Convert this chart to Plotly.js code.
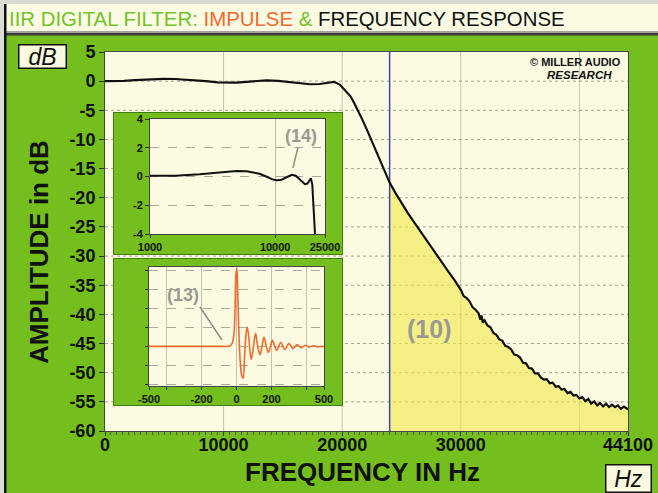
<!DOCTYPE html>
<html><head><meta charset="utf-8">
<script src="https://cdn.plot.ly/plotly-3.0.1.min.js"></script>
<style>html,body{margin:0;padding:0;background:#74be1e;} #chart{width:658px;height:493px;}</style>
</head><body><div id="chart"></div>
<script>
// ---- data ----
const freqHz = [0,500,1000,1600,2500,3400,4000,4900,5900,6500,7500,8500,9500,10200,11100,12200,13600,14600,16000,17300,18100,18900,19300,19800,
  20200,20700,21000,21400,21700,22100,22500,22900,23500,24000,24500,25000,25500,26000,26500,27000,27500,28000,28500,29000,29500,
  30000,30250,30500,30750,31000,31250,31500,31650,31750,31850,32000,32250,32500,32750,33000,33250,33500,33750,34000,34250,34500,34750,
  35000,35250,35500,35750,36000,36250,36500,36750,37000,37250,37500,37750,38000,38250,38500,38750,39000,39250,39500,39750,
  40000,40250,40500,40750,41000,41250,41500,41750,42000,42250,42500,42750,43000,43250,43500,43750,44100];
const ampDb = [0,0,0,0.05,0.16,0.25,0.32,0.39,0.37,0.31,0.19,0.0,-0.2,-0.26,-0.25,-0.07,0.12,0.05,-0.3,-0.53,-0.49,-0.21,-0.12,-0.58,
  -1.5,-2.6,-3.7,-5.3,-6.6,-8.4,-10.3,-12.1,-14.9,-17.4,-19.2,-20.9,-22.5,-24.0,-25.5,-27.0,-28.5,-30.0,-31.4,-32.8,-34.2,
  -35.8,-36.9,-37.2,-37.8,-38.8,-39.2,-39.8,-40.9,-40.2,-41.4,-41.0,-41.9,-42.2,-43.2,-43.5,-44.3,-44.5,-45.4,-45.6,-46.0,-46.9,-47.0,
  -47.4,-48.3,-48.4,-49.2,-49.3,-50.1,-50.1,-50.8,-51.2,-51.1,-51.8,-51.7,-52.4,-52.3,-52.9,-52.8,-53.5,-53.3,-53.9,-53.8,
  -54.4,-54.2,-54.9,-54.5,-55.3,-54.9,-55.6,-55.2,-55.8,-55.3,-55.9,-55.5,-55.9,-55.6,-56.2,-55.8,-56.3];
const cutoffHz = 24000;
const impulseT = [-500,-100,-50,-35,-25,-15,-8,-3,2,6,12,20,30,38,46,54,61,70,84,97,109,121,134,146,157,170,182,194,205,218,230,253,276,300,323,347,370,394,417,440,463,500];
const impulseV = [0,0,0,0.01,0.04,0.15,0.5,0.95,1.02,0.8,0.3,-0.15,-0.38,-0.42,-0.15,0.15,0.25,0.12,-0.17,0.0,0.17,0.0,-0.11,0.0,0.12,0.0,-0.08,0.0,0.08,0.0,-0.055,0.05,-0.04,0.035,-0.028,0.022,-0.018,0.014,-0.01,0.008,-0.005,0];
const xTickVals = [0,10000,20000,30000,44100];
const xTickText = ['0','10000','20000','30000','44100'];
const yTickVals = [-60,-55,-50,-45,-40,-35,-30,-25,-20,-15,-10,-5,0,5];
const mainGridX = [10000,20000,30000,40000];
const mainGridY = [-55,-50,-45,-40,-35,-30,-25,-20,-15,-10,-5,0];
const insetFreqTicks = [1000,10000,25000];
const insetDbTicks = [-4,-2,0,2,4];
const impulseTickVals = [-500,-400,-200,0,200,400,500];
const impulseTickText = ['-500','','-200','0','200','','500'];
const xRange = [0,44100], yRange = [-60,5];

// ---- geometry helpers (pixels -> paper) ----
const L=105,R=628,T=52,B=431,W=R-L,H=B-T;
const px = X => (X-L)/W, py = Y => (B-Y)/H;
function rect(x0,y0,x1,y1,fill){
  return {type:'rect',xref:'paper',yref:'paper',x0:px(x0),x1:px(x1),y0:py(y1),y1:py(y0),
    fillcolor:fill,line:{color:fill,width:0},layer:'below'};
}
const GREEN='#74be1e', CREAM='#fcfbe2', FONT='Liberation Sans, Arial, sans-serif';
const fr1 = {x:[px(113),px(343)], y:[py(255),py(112)]};
const fr2 = {x:[px(113),px(343)], y:[py(406),py(258)]};
const in1 = {x:[px(150),px(325)], y:[py(234),py(119)]};
const in2 = {x:[px(149),px(324)], y:[py(386),py(267)]};

const shapes = [];
// main grid (drawn in the main subplot's own layer, under the inset frames)
mainGridX.forEach(g=>shapes.push({type:'line',xref:'x',yref:'y',x0:g,x1:g,y0:yRange[0],y1:yRange[1],line:{color:'#c3c3b0',width:1},layer:'below'}));
mainGridY.forEach(g=>shapes.push({type:'line',xref:'x',yref:'y',x0:xRange[0],x1:xRange[1],y0:g,y1:g,line:{color:'#a2a294',width:1,dash:'dot'},layer:'below'}));
// inset frames, in their own frame subplots
shapes.push({type:'rect',xref:'x2',yref:'y2',x0:0,x1:1,y0:0,y1:1,fillcolor:GREEN,line:{color:'#3f7d12',width:2},layer:'below'});
shapes.push({type:'rect',xref:'x3',yref:'y3',x0:0,x1:1,y0:0,y1:1,fillcolor:GREEN,line:{color:'#3f7d12',width:2},layer:'below'});
// outer decoration
shapes.push(rect(0,0,658,4,'#d9dbd2'));
shapes.push(rect(4,4,658,31,'#fbfbe4'));
shapes.push(rect(4,31,658,33,'#a3a39c'));
shapes.push(rect(4,33,658,35.5,'#3a3a3a'));
shapes.push(rect(0,0,4,493,'#dcded6'));
shapes.push(rect(4,4,6.5,493,'#111111'));
// leader lines
shapes.push({type:'line',xref:'paper',yref:'paper',x0:px(298),y0:py(147),x1:px(293),y1:py(168),line:{color:'#8e8e88',width:1.5},layer:'above'});
shapes.push({type:'line',xref:'paper',yref:'paper',x0:px(200),y0:py(307),x1:px(222),y1:py(340),line:{color:'#8e8e88',width:1.5},layer:'above'});

const stopIdx = freqHz.findIndex(f=>f>=cutoffHz);
const fillX = freqHz.slice(stopIdx), fillY = ampDb.slice(stopIdx);

const traces = [
  {x:[cutoffHz, freqHz[freqHz.length-1]], y:[yRange[0],yRange[0]], mode:'lines', line:{width:0,color:'rgba(0,0,0,0)'}, hoverinfo:'skip', showlegend:false},
  {x:fillX, y:fillY, mode:'lines', fill:'tonexty', fillcolor:'rgba(241,231,72,0.6)', line:{width:0,color:'rgba(0,0,0,0)'}, hoverinfo:'skip', showlegend:false},
  {x:[cutoffHz,cutoffHz], y:yRange, mode:'lines', line:{color:'#3a48a8',width:1.5}, showlegend:false},
  {x:freqHz, y:ampDb, mode:'lines', line:{color:'#111',width:2.2}, showlegend:false},
  {x:[], y:[], xaxis:'x2', yaxis:'y2', mode:'lines', showlegend:false},
  {x:[], y:[], xaxis:'x3', yaxis:'y3', mode:'lines', showlegend:false},
  {x:freqHz, y:ampDb, xaxis:'x4', yaxis:'y4', mode:'lines', line:{color:'#111',width:2}, showlegend:false},
  {x:impulseT, y:impulseV, xaxis:'x5', yaxis:'y5', mode:'lines', line:{color:'#f26a2a',width:1.6,shape:'spline'}, showlegend:false}
];

const tf = (s)=>({family:FONT,size:s,color:'#111',weight:'bold'});
const hidden = (dom, anchor)=>({domain:dom, anchor:anchor, range:[0,1], visible:false, fixedrange:true});
const layout = {
  width:658, height:493, autosize:false,
  margin:{l:L,r:658-R,t:T,b:493-B,pad:0},
  paper_bgcolor:GREEN, plot_bgcolor:CREAM, showlegend:false,
  xaxis:{range:xRange, tickmode:'array', tickvals:xTickVals, ticktext:xTickText, ticks:'outside', ticklen:4, tickcolor:'#333',
    ticklabelstandoff:-7,
    minor:{tickmode:'linear', tick0:0, dtick:500, ticks:'outside', ticklen:3, tickcolor:'#555', showgrid:false},
    showline:true, mirror:true, linecolor:'#444', linewidth:1, showgrid:false, zeroline:false, tickfont:tf(18)},
  yaxis:{range:yRange, tickmode:'array', tickvals:yTickVals, ticktext:yTickVals.map(String), ticks:'outside', ticklen:5, tickcolor:'#333',
    showline:true, mirror:true, linecolor:'#444', linewidth:1, showgrid:false, zeroline:false, tickfont:tf(18)},
  xaxis2:hidden(fr1.x,'y2'), yaxis2:hidden(fr1.y,'x2'),
  xaxis3:hidden(fr2.x,'y3'), yaxis3:hidden(fr2.y,'x3'),
  xaxis4:{type:'log', domain:in1.x, anchor:'y4', range:[Math.log10(insetFreqTicks[0]), Math.log10(insetFreqTicks[2])],
    tickmode:'array', tickvals:insetFreqTicks, ticktext:insetFreqTicks.map(String), ticks:'outside', ticklen:3, tickcolor:'#333',
    showline:true, mirror:true, linecolor:'#444', showgrid:true, gridcolor:'#bdbdae', zeroline:false, tickfont:tf(11)},
  yaxis4:{domain:in1.y, anchor:'x4', range:[-4,4], tickmode:'array', tickvals:insetDbTicks, ticktext:insetDbTicks.map(String),
    ticks:'outside', ticklen:4, tickcolor:'#333', showline:true, mirror:true, linecolor:'#444', showgrid:true, gridcolor:'#a9a99c', griddash:'dash', zeroline:false, tickfont:tf(11)},
  xaxis5:{domain:in2.x, anchor:'y5', range:[-500,500], tickmode:'array', tickvals:impulseTickVals, ticktext:impulseTickText,
    ticks:'outside', ticklen:3, tickcolor:'#333', showline:true, mirror:true, linecolor:'#444', showgrid:true, gridcolor:'#c2c2b2', zeroline:false, tickfont:tf(11)},
  yaxis5:{domain:in2.y, anchor:'x5', range:[-0.52,1.04], tick0:0, dtick:0.25, showticklabels:false, ticks:'outside', ticklen:3, tickcolor:'#333',
    showline:true, mirror:true, linecolor:'#444', showgrid:true, gridcolor:'#a9a99c', griddash:'dash', zeroline:false},
  shapes:shapes,
  annotations:[
    {xref:'paper',yref:'paper',x:px(7),y:py(19),xanchor:'left',yanchor:'middle',showarrow:false,
     text:'<span style="color:#74c22a">IIR DIGITAL FILTER: </span><span style="color:#f0692e">IMPULSE</span><span style="color:#74c22a"> &amp; </span><span style="color:#111">FREQUENCY RESPONSE</span>',
     font:{family:FONT,size:20.4,color:'#111'}},
    {xref:'paper',yref:'paper',x:px(42),y:py(56),xanchor:'center',yanchor:'middle',showarrow:false,text:'dB',
     font:{family:FONT,size:23,color:'#111',style:'italic'},bgcolor:'#fbfae0',bordercolor:'#111',borderwidth:1.5,borderpad:0,width:46,height:22},
    {xref:'paper',yref:'paper',x:px(628),y:py(478),xanchor:'center',yanchor:'middle',showarrow:false,text:'Hz',
     font:{family:FONT,size:23,color:'#111',style:'italic'},bgcolor:'#fbfae0',bordercolor:'#111',borderwidth:1.5,borderpad:0,width:44,height:26},
    {xref:'paper',yref:'paper',x:px(362),y:py(472),xanchor:'center',yanchor:'middle',showarrow:false,text:'FREQUENCY IN Hz',font:tf(26)},
    {xref:'paper',yref:'paper',x:px(39),y:py(252),xanchor:'center',yanchor:'middle',showarrow:false,text:'AMPLITUDE in dB',textangle:-90,font:tf(26)},
    {xref:'paper',yref:'paper',x:px(623),y:py(62),xanchor:'right',yanchor:'middle',showarrow:false,text:'© MILLER AUDIO',font:tf(11)},
    {xref:'paper',yref:'paper',x:px(614),y:py(75),xanchor:'right',yanchor:'middle',showarrow:false,text:'RESEARCH',
     font:{family:FONT,size:11.5,color:'#111',weight:'bold',style:'italic'}},
    {xref:'paper',yref:'paper',x:px(429),y:py(329),xanchor:'center',yanchor:'middle',showarrow:false,text:'(10)',font:{family:FONT,size:25,color:'#9a9a92',weight:'bold'}},
    {xref:'paper',yref:'paper',x:px(301),y:py(136),xanchor:'center',yanchor:'middle',showarrow:false,text:'(14)',font:{family:FONT,size:18,color:'#9a9a92',weight:'bold'}},
    {xref:'paper',yref:'paper',x:px(183),y:py(295),xanchor:'center',yanchor:'middle',showarrow:false,text:'(13)',font:{family:FONT,size:18,color:'#9a9a92',weight:'bold'}}
  ]
};
Plotly.newPlot('chart', traces, layout, {displayModeBar:false, staticPlot:true});
</script></body></html>
